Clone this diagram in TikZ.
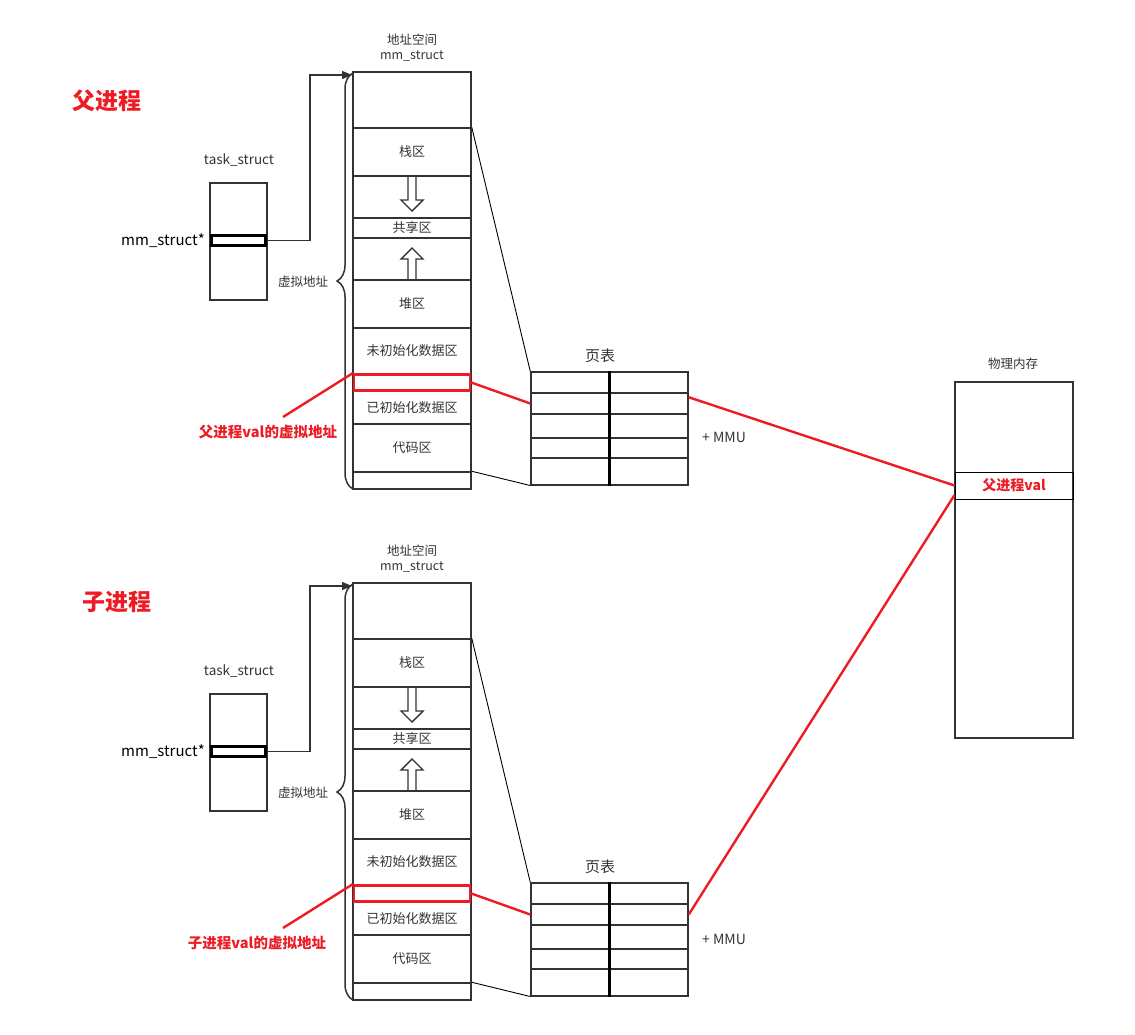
\documentclass[tikz,border=0pt]{standalone}
\usepackage{fontspec}
\setmainfont{Noto Sans CJK SC}
\usepackage{xcolor}
\usetikzlibrary{arrows.meta, positioning, calc, decorations.pathreplacing}
\definecolor{edge}{RGB}{51,51,51}
\definecolor{hot}{RGB}{237,28,36}
\newcommand{\fsz}[1]{\fontsize{#1}{#1}\selectfont}
\tikzstyle{seg} = [rectangle, draw=edge, line width=1.5pt, minimum width=118pt, inner sep=0pt, text=edge, font=\fsz{13}]
\tikzstyle{valbox} = [rectangle, draw=hot, line width=2.6pt, minimum width=116pt, minimum height=16pt, inner sep=0pt]
\tikzstyle{cell} = [rectangle, draw=edge, line width=1.5pt, minimum width=157pt, inner sep=0pt]
\tikzstyle{tag} = [text=edge, font=\fsz{12.5}, inner sep=0pt]
\tikzstyle{hotlbl} = [text=hot, font=\bfseries\fsz{14.5}, inner sep=0pt]
\tikzstyle{hotline} = [hot, line width=2.4pt]
\tikzstyle{guide} = [black, line width=0.9pt]
\tikzstyle{ptr} = [edge, line width=1.4pt, -{Triangle[length=10pt,width=8pt]}]
\tikzstyle{hollow} = [edge, line width=1.4pt, line join=miter]

\begin{document}
\begin{tikzpicture}[x=1pt, y=-1pt]
    \useasboundingbox (0,0) rectangle (1135,1034);

    % one block for each process
    \foreach \s/\oy/\ty/\tx/\who/\lx/\my in {p/0/101/107/父/268/437, c/511/602/117/子/257/939} {
        \node[hotlbl, font=\bfseries\fsz{23}] (title\s) at (\tx,\ty) {\who 进程};

        % task_struct
        \node[tag, font=\fsz{13.5}] (tsname\s) at (239,160+\oy) {task\_struct};
        \node[seg, minimum width=57pt, minimum height=117pt] (ts\s) at (238.5,241.5+\oy) {};
        \node[rectangle, draw=black, line width=3pt, minimum width=54pt, minimum height=10pt, inner sep=0pt] (mm\s) at (238.5,240.5+\oy) {};
        \node[tag, anchor=east, text=black, font=\fsz{15}] (mmlbl\s) at (205,241+\oy) {mm\_struct*};

        % address space
        \node[tag] (as\s) at (412,40+\oy) {地址空间};
        \node[tag] (mmname\s) at (412,56+\oy) {mm\_struct};
        \foreach \nm/\y/\h/\txt in {top/100/56/{}, stack/152/48/栈区, down/197/42/{}, share/228/20/共享区, up/259/42/{}, heap/304/48/堆区, bss/351/46/未初始化数据区, val/382.5/17/{}, data/407.5/33/已初始化数据区, code/448/48/代码区, bot/480.5/17/{}}
            \node[seg, minimum height=\h] (\nm\s) at (412,\y+\oy) {\txt};
        \node[valbox] (vbox\s) at (412,382.5+\oy) {};
        \draw[hollow] (408,177+\oy) -- (408,200+\oy) -- (401,200+\oy) -- (412,211+\oy) -- (423,200+\oy) -- (416,200+\oy) -- (416,177+\oy);
        \draw[hollow] (408,280+\oy) -- (408,259+\oy) -- (401,259+\oy) -- (412,248+\oy) -- (423,259+\oy) -- (416,259+\oy) -- (416,280+\oy);

        \coordinate (in\s) at (352,75+\oy);
        \draw[ptr] (mm\s.east) -- ++(43,0) |- (in\s);
        \draw[edge, line width=1.5pt, decorate, decoration={brace, amplitude=16pt}] (353,489+\oy) -- (353,73+\oy);
        \node[tag] (virt\s) at (303,282+\oy) {虚拟地址};

        % page table
        \node[tag, font=\fsz{15}] (pttitle\s) at (600,356+\oy) {页表};
        \foreach \k/\y/\h in {1/382.5/21, 2/403.5/21, 3/426/23.5, 4/448/20, 5/471.5/26.5}
            \node[cell, minimum height=\h] (pt\s\k) at (609.5,\y+\oy) {};
        \draw[black, line width=3.5pt] (pt\s1.north) -- (pt\s5.south);
        \node[tag, font=\fsz{14}] (mmu\s) at (724,\my) {+ MMU};

        \draw[guide] (stack\s.north east) -- (pt\s1.north west);
        \draw[guide] (bot\s.north east) -- (pt\s5.south west);

        % val
        \draw[hotline] (vbox\s.east) -- (pt\s2.west);
        \coordinate (tip\s) at (283,417+\oy);
        \draw[hotline] (vbox\s.north west) -- (tip\s);
        \node[hotlbl] (vlbl\s) at (\lx,432+\oy) {\who 进程val的虚拟地址};
    }

    % physical memory
    \node[tag] (memname) at (1013,364) {物理内存};
    \node[seg, minimum width=118pt, minimum height=356pt] (mem) at (1014,560) {};
    \node[rectangle, draw=black, line width=1pt, minimum width=118pt, minimum height=27pt, inner sep=0pt, text=hot, font=\bfseries\fsz{14}] (pval) at (1014,485.5) {父进程val};

    \draw[hotline] ([yshift=-5pt]ptp2.north east) -- (pval.west);
    \draw[hotline] (ptc2.east) -- ([yshift=-9.5pt]pval.west);
\end{tikzpicture}
\end{document}
